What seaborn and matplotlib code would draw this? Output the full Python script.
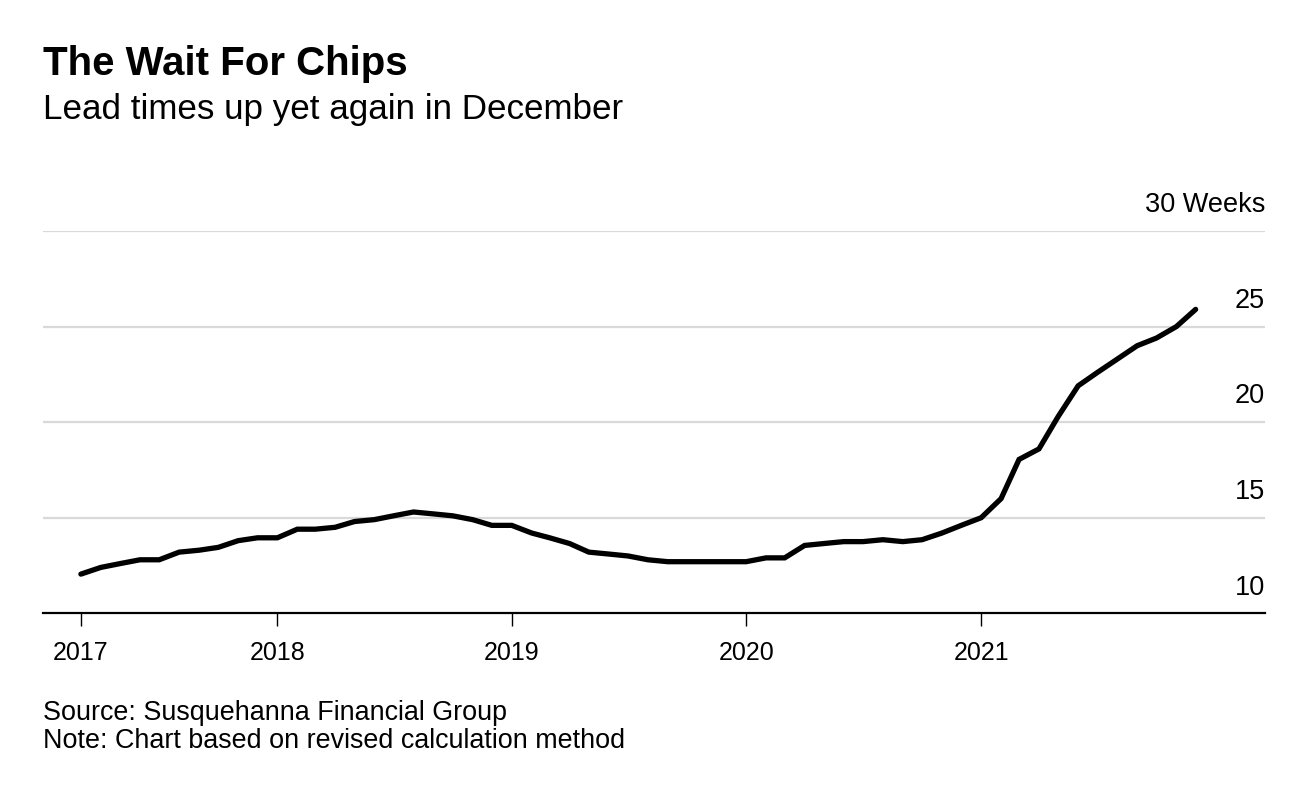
import matplotlib
matplotlib.use("Agg")
import matplotlib.pyplot as plt
import matplotlib.transforms as mtransforms
import seaborn as sns
import pandas as pd

# Data: monthly chip lead times (weeks), Mar 2017 - Dec 2021
months = pd.date_range("2017-03-01", "2021-12-01", freq="MS")
lead_weeks = [
    12.05, 12.4, 12.6, 12.8, 12.8, 13.2, 13.3, 13.45, 13.8, 13.95,          # 2017 Mar-Dec
    13.95, 14.4, 14.4, 14.5, 14.8, 14.9, 15.1, 15.3, 15.2, 15.1, 14.9, 14.6,  # 2018
    14.6, 14.2, 13.95, 13.65, 13.2, 13.1, 13.0, 12.8, 12.7, 12.7, 12.7, 12.7,  # 2019
    12.7, 12.9, 12.9, 13.55, 13.65, 13.75, 13.75, 13.85, 13.75, 13.85, 14.2, 14.6,  # 2020
    15.0, 16.0, 18.05, 18.6, 20.3, 21.9, 22.6, 23.3, 24.0, 24.4, 25.0, 25.9,  # 2021
]
tick_dates = ["2017-03-01", "2018-01-01", "2019-01-01", "2020-01-01", "2021-01-01"]
tick_labels = ["2017", "2018", "2019", "2020", "2021"]
y_ticks = [10, 15, 20, 25, 30]
y_labels = ["10", "15", "20", "25", "30 Weeks"]

df = pd.DataFrame({"month": months, "weeks": lead_weeks})

sns.set_style("white")
plt.rcParams["font.family"] = ["Liberation Sans", "DejaVu Sans"]
plt.rcParams["text.color"] = "black"
plt.rcParams["xtick.color"] = "black"
plt.rcParams["xtick.labelcolor"] = "black"

fig = plt.figure(figsize=(13.1, 7.88), dpi=100)
ax = fig.add_axes([43 / 1310, 1 - 613.3 / 788, (1265 - 43) / 1310, (613.3 - 231) / 788])

# gridlines
for v in y_ticks[1:]:
    ax.axhline(v, color="#d9d9d9", lw=1.6, zorder=1)

sns.lineplot(data=df, x="month", y="weeks", ax=ax, color="black", lw=3.8,
             zorder=3, solid_capstyle="round", solid_joinstyle="miter")

ax.set_xlim(pd.Timestamp("2017-01-01"), pd.Timestamp("2022-03-19"))
ax.set_ylim(10, 30)

for s in ["top", "right", "left"]:
    ax.spines[s].set_visible(False)
ax.spines["bottom"].set_color("black")
ax.spines["bottom"].set_linewidth(1.6)
ax.spines["bottom"].set_zorder(4)

ax.set_xticks([pd.Timestamp(d) for d in tick_dates])
ax.set_xticklabels(tick_labels)
ax.tick_params(axis="x", direction="out", length=9, width=1.0, color="black",
               labelsize=18, labelcolor="black", pad=11, bottom=True)
ax.set_yticks([])
ax.set_xlabel("")
ax.set_ylabel("")

offset = mtransforms.offset_copy(ax.get_yaxis_transform(), fig=fig, x=0, y=13.5, units="points")
for v, lab in zip(y_ticks, y_labels):
    ax.text(1.0, v, lab, transform=offset, ha="right", va="baseline", fontsize=19.5, color="black")

fig.text(43 / 1310, 1 - 75 / 788, "The Wait For Chips", fontsize=29, fontweight="bold",
         ha="left", va="baseline", color="black")
fig.text(43 / 1310, 1 - 119 / 788, "Lead times up yet again in December", fontsize=25.2,
         ha="left", va="baseline", color="black")
fig.text(43 / 1310, 1 - 720 / 788, "Source: Susquehanna Financial Group", fontsize=19.4,
         ha="left", va="baseline", color="black")
fig.text(43 / 1310, 1 - 748 / 788, "Note: Chart based on revised calculation method", fontsize=19.4,
         ha="left", va="baseline", color="black")

fig.savefig("out.png", dpi=100, facecolor="white")
